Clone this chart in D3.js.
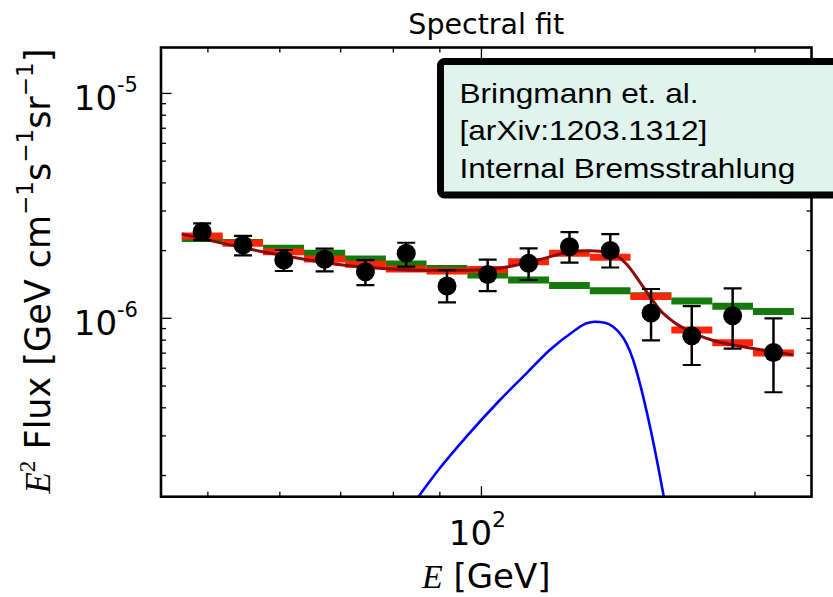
<!DOCTYPE html>
<html>
<head>
<meta charset="utf-8">
<script src="https://cdn.jsdelivr.net/npm/d3@7"></script>
<style>
  body { margin: 0; background: #fff; }
  svg { display: block; }
</style>
</head>
<body>
<div id="chart"></div>
<script>
// measured points (E in GeV, E^2 flux)
var energies = [49.28, 54.66, 60.61, 67.21, 74.53, 82.65, 91.65, 101.6, 112.7, 125.0, 138.6, 153.7, 170.4, 189.0, 209.6];
var flux = [2.426e-6, 2.117e-6, 1.816e-6, 1.829e-6, 1.611e-6, 1.945e-6, 1.392e-6, 1.565e-6, 1.755e-6, 2.081e-6, 2.002e-6, 1.056e-6, 0.837e-6, 1.027e-6, 0.705e-6];
var fluxHi = [2.644e-6, 2.328e-6, 2.012e-6, 2.039e-6, 1.816e-6, 2.168e-6, 1.639e-6, 1.825e-6, 2.047e-6, 2.419e-6, 2.370e-6, 1.350e-6, 1.134e-6, 1.359e-6, 1.000e-6];
var fluxLo = [2.228e-6, 1.905e-6, 1.623e-6, 1.618e-6, 1.406e-6, 1.696e-6, 1.178e-6, 1.322e-6, 1.480e-6, 1.770e-6, 1.682e-6, 0.797e-6, 0.620e-6, 0.733e-6, 0.469e-6];

// energy bin edges and binned model predictions
var binEdges = [46.8, 51.9, 57.5, 63.8, 70.8, 78.5, 87.0, 96.5, 107.0, 118.7, 131.6, 145.9, 161.8, 179.5, 199.0, 220.7];
var modelWithLine = [2.322e-6, 2.154e-6, 1.977e-6, 1.835e-6, 1.738e-6, 1.656e-6, 1.623e-6, 1.648e-6, 1.785e-6, 1.945e-6, 1.867e-6, 1.250e-6, 0.887e-6, 0.779e-6, 0.701e-6];
var modelNoLine = [2.263e-6, 2.172e-6, 2.047e-6, 1.945e-6, 1.835e-6, 1.743e-6, 1.665e-6, 1.557e-6, 1.480e-6, 1.399e-6, 1.326e-6, 1.260e-6, 1.194e-6, 1.131e-6, 1.072e-6];

// smooth total fit
var fitE = [46.80, 51.93, 57.46, 63.61, 70.40, 77.91, 86.98, 97.08, 107.4, 115.9, 125.1, 131.6, 138.5, 144.4, 149.4, 153.3, 157.2, 162.6, 171.1, 179.9, 189.3, 199.1, 209.6, 220.4];
var fitF = [2.370e-6, 2.154e-6, 1.977e-6, 1.835e-6, 1.725e-6, 1.665e-6, 1.634e-6, 1.634e-6, 1.699e-6, 1.825e-6, 1.971e-6, 1.997e-6, 1.957e-6, 1.743e-6, 1.450e-6, 1.247e-6, 1.089e-6, 0.966e-6, 0.860e-6, 0.797e-6, 0.761e-6, 0.734e-6, 0.711e-6, 0.687e-6];

// internal bremsstrahlung component
var ibE = [85.15, 89.98, 96.27, 104.8, 112.1, 118.9, 126.1, 130.5, 133.3, 136.7, 139.6, 142.0, 144.4, 146.9, 149.4, 153.3, 156.5, 158.8];
var ibF = [1.60e-7, 2.154e-7, 2.977e-7, 4.334e-7, 5.695e-7, 7.228e-7, 8.718e-7, 9.501e-7, 9.658e-7, 9.559e-7, 9.176e-7, 8.577e-7, 7.743e-7, 6.527e-7, 5.141e-7, 3.298e-7, 2.190e-7, 1.60e-7];

var xMajor = [100];
var xMinor = [50, 60, 70, 80, 90, 200];
var yMajor = [1e-6, 1e-5];
var yMajorExp = ["-6", "-5"];
var yMinor = [2e-7, 3e-7, 4e-7, 5e-7, 6e-7, 7e-7, 8e-7, 9e-7, 2e-6, 3e-6, 4e-6, 5e-6, 6e-6, 7e-6, 8e-6, 9e-6];

var legendLines = ["Bringmann et. al.", "[arXiv:1203.1312]", "Internal Bremsstrahlung"];

var width = 833, height = 597;
var plotL = 161, plotR = 811.5, plotT = 47.5, plotB = 496.7;

var svg = d3.select("#chart").append("svg")
  .attr("width", width)
  .attr("height", height);

svg.append("rect").attr("width", width).attr("height", height).attr("fill", "#fff");

var x = d3.scaleLog().domain([44.4, 230.8]).range([plotL, plotR]);
var y = d3.scaleLog().domain([1.61e-7, 1.6e-5]).range([plotB, plotT]);

svg.append("clipPath").attr("id", "plotclip")
  .append("rect")
  .attr("x", plotL).attr("y", plotT)
  .attr("width", plotR - plotL).attr("height", plotB - plotT);

var plot = svg.append("g").attr("clip-path", "url(#plotclip)");

// binned models: green first, red over it
function steps(values, colour) {
  plot.append("g")
    .selectAll("line")
    .data(values)
    .enter().append("line")
    .attr("x1", function (d, i) { return x(binEdges[i]); })
    .attr("x2", function (d, i) { return x(binEdges[i + 1]); })
    .attr("y1", function (d) { return y(d); })
    .attr("y2", function (d) { return y(d); })
    .attr("stroke", colour)
    .attr("stroke-width", 7);
}
steps(modelNoLine, "#137a0b");
steps(modelWithLine, "#ff250a");

var line = d3.line()
  .x(function (d) { return x(d[0]); })
  .y(function (d) { return y(d[1]); })
  .curve(d3.curveMonotoneX);

plot.append("path")
  .datum(d3.zip(fitE, fitF))
  .attr("d", line)
  .attr("fill", "none")
  .attr("stroke", "#8b0a0a")
  .attr("stroke-width", 3);

plot.append("path")
  .datum(d3.zip(ibE, ibF))
  .attr("d", line)
  .attr("fill", "none")
  .attr("stroke", "#0000ff")
  .attr("stroke-width", 2.6);

// data points with error bars
var pts = plot.append("g")
  .selectAll("g")
  .data(energies.map(function (e, i) { return {e: e, f: flux[i], hi: fluxHi[i], lo: fluxLo[i]}; }))
  .enter().append("g");

pts.append("line")
  .attr("x1", function (d) { return x(d.e); })
  .attr("x2", function (d) { return x(d.e); })
  .attr("y1", function (d) { return y(d.hi); })
  .attr("y2", function (d) { return y(d.lo); })
  .attr("stroke", "#000").attr("stroke-width", 2.5);

["hi", "lo"].forEach(function (k) {
  pts.append("line")
    .attr("x1", function (d) { return x(d.e) - 9; })
    .attr("x2", function (d) { return x(d.e) + 9; })
    .attr("y1", function (d) { return y(d[k]); })
    .attr("y2", function (d) { return y(d[k]); })
    .attr("stroke", "#000").attr("stroke-width", 2.2);
});

pts.append("circle")
  .attr("cx", function (d) { return x(d.e); })
  .attr("cy", function (d) { return y(d.f); })
  .attr("r", 9.5)
  .attr("fill", "#000");

// ticks, pointing inwards on all four sides
var ticks = svg.append("g").attr("stroke", "#000").attr("stroke-width", 1.3);

function xTicks(vals, len) {
  vals.forEach(function (v) {
    ticks.append("line").attr("x1", x(v)).attr("x2", x(v)).attr("y1", plotB).attr("y2", plotB - len);
    ticks.append("line").attr("x1", x(v)).attr("x2", x(v)).attr("y1", plotT).attr("y2", plotT + len);
  });
}
function yTicks(vals, len) {
  vals.forEach(function (v) {
    ticks.append("line").attr("y1", y(v)).attr("y2", y(v)).attr("x1", plotL).attr("x2", plotL + len);
    ticks.append("line").attr("y1", y(v)).attr("y2", y(v)).attr("x1", plotR).attr("x2", plotR - len);
  });
}
xTicks(xMajor, 10.5);
xTicks(xMinor, 5);
yTicks(yMajor, 10.5);
yTicks(yMinor, 5);

svg.append("rect")
  .attr("x", plotL).attr("y", plotT)
  .attr("width", plotR - plotL).attr("height", plotB - plotT)
  .attr("fill", "none").attr("stroke", "#000").attr("stroke-width", 2.6);

// tick labels
var sans = "DejaVu Sans";

yMajor.forEach(function (v, i) {
  var t = svg.append("text")
    .attr("x", 138).attr("y", y(v) + 16.7)
    .attr("text-anchor", "end")
    .attr("font-family", sans).attr("font-size", 34);
  t.append("tspan").text("10");
  t.append("tspan").attr("font-size", 21).attr("dy", -18).text(yMajorExp[i]);
});

xMajor.forEach(function (v) {
  var t = svg.append("text")
    .attr("x", x(v) - 4).attr("y", 545)
    .attr("text-anchor", "middle")
    .attr("font-family", sans).attr("font-size", 34);
  t.append("tspan").text("10");
  t.append("tspan").attr("font-size", 22).attr("dy", -18).text("2");
});

// title and axis labels
svg.append("text")
  .attr("x", (plotL + plotR) / 2).attr("y", 33.5)
  .attr("text-anchor", "middle")
  .attr("font-family", sans).attr("font-size", 28.5)
  .text("Spectral fit");

var xl = svg.append("text")
  .attr("x", (plotL + plotR) / 2).attr("y", 588)
  .attr("text-anchor", "middle")
  .attr("font-family", sans).attr("font-size", 34);
xl.append("tspan").attr("font-family", "Liberation Serif").attr("font-style", "italic").attr("font-size", 34).text("E");
xl.append("tspan").text(" [GeV]");

var yl = svg.append("text")
  .attr("transform", "translate(50," + ((plotT + plotB) / 2 - 1) + ") rotate(-90)")
  .attr("text-anchor", "middle")
  .attr("font-family", sans).attr("font-size", 35);
yl.append("tspan").attr("font-family", "Liberation Serif").attr("font-style", "italic").attr("font-size", 35).text("E");
yl.append("tspan").attr("font-family", "Liberation Serif").attr("font-size", 23).attr("dy", -15).text("2");
yl.append("tspan").attr("dy", 15).text(" Flux [GeV cm");
yl.append("tspan").attr("font-size", 23).attr("dy", -17).text("\u22121");
yl.append("tspan").attr("dy", 17).text("s");
yl.append("tspan").attr("font-size", 23).attr("dy", -17).text("\u22121");
yl.append("tspan").attr("dy", 17).text("sr");
yl.append("tspan").attr("font-size", 23).attr("dy", -17).text("\u22121");
yl.append("tspan").attr("dy", 17).text("]");

// annotation box
svg.append("rect")
  .attr("x", 440.5).attr("y", 61.5)
  .attr("width", 420).attr("height", 133.5)
  .attr("rx", 4)
  .attr("fill", "#e1f3ed")
  .attr("stroke", "#000")
  .attr("stroke-width", 7);

var lg = svg.append("g").attr("transform", "translate(459.5,0) scale(1.13,1)");
lg.selectAll("text")
  .data(legendLines)
  .enter().append("text")
  .attr("x", 0)
  .attr("y", function (d, i) { return 102.7 + i * 37.8; })
  .attr("font-family", "Liberation Sans")
  .attr("font-size", 28)
  .attr("fill", "#000")
  .text(function (d) { return d; });
</script>
</body>
</html>
